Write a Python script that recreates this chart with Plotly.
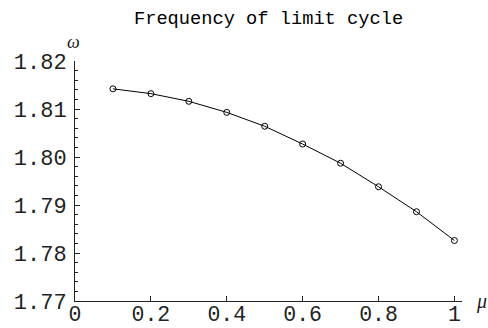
import plotly.graph_objects as go

mu = [0.1, 0.2, 0.3, 0.4, 0.5, 0.6, 0.7, 0.8, 0.9, 1.0]
omega = [1.8142, 1.8132, 1.8116, 1.8093, 1.8064, 1.8027, 1.7987, 1.7938, 1.7886, 1.7826]
x_ticks = [0, 0.2, 0.4, 0.6, 0.8, 1]
x_labels = ["0", "0.2", "0.4", "0.6", "0.8", "1"]
y_ticks = [1.77, 1.78, 1.79, 1.80, 1.81, 1.82]
y_labels = ["1.77", "1.78", "1.79", "1.80", "1.81", "1.82"]

mono = "Liberation Mono, Courier New, monospace"

fig = go.Figure()
fig.add_trace(go.Scatter(
    x=mu, y=omega, mode="lines+markers",
    line=dict(color="black", width=1),
    marker=dict(symbol="circle-open", size=6, color="black", line=dict(width=1)),
    showlegend=False, cliponaxis=False,
))

fig.update_layout(
    template="none",
    width=488, height=328,
    margin=dict(l=75, r=26, t=61, b=27, autoexpand=False),
    paper_bgcolor="white", plot_bgcolor="white",
    title=dict(text="Frequency of limit cycle", x=0.5503, xanchor="center",
               y=1 - 17 / 328, yanchor="middle",
               font=dict(family=mono, size=18.7, color="black")),
    font=dict(family=mono, color="black"),
)
fig.update_xaxes(
    range=[0, 1.02], tickvals=x_ticks, ticktext=x_labels, automargin=False,
    showgrid=False, zeroline=False, showline=True, linecolor="#222", linewidth=1,
    ticks="inside", ticklen=5, tickcolor="#222", tickwidth=1,
    ticklabelstandoff=-7,
    tickfont=dict(family=mono, size=21.5, color="#222"),
)
fig.update_yaxes(
    range=[1.77, 1.82], tickvals=y_ticks, ticktext=y_labels, automargin=False,
    showgrid=False, zeroline=False, showline=True, linecolor="#222", linewidth=1,
    ticks="inside", ticklen=5, tickcolor="#222", tickwidth=1,
    ticklabelstandoff=3,
    tickfont=dict(family=mono, size=22, color="#222"),
    minor=dict(ticks="inside", dtick=0.002, tick0=1.77, ticklen=3, tickcolor="#222", tickwidth=1, showgrid=False),
)
fig.add_annotation(text="ω", xref="paper", yref="paper", x=-0.005, y=1.08,
                   showarrow=False, xanchor="center", yanchor="middle",
                   font=dict(family="Liberation Serif, serif", size=18, color="#222", style="italic"))
fig.add_annotation(text="μ", xref="paper", yref="paper", x=1.05, y=0.0,
                   showarrow=False, xanchor="center", yanchor="middle",
                   font=dict(family="Liberation Serif, serif", size=20, color="#222", style="italic"))

fig.write_html("out.html", config={"displayModeBar": False},
               post_script="document.body.style.margin='0';")
